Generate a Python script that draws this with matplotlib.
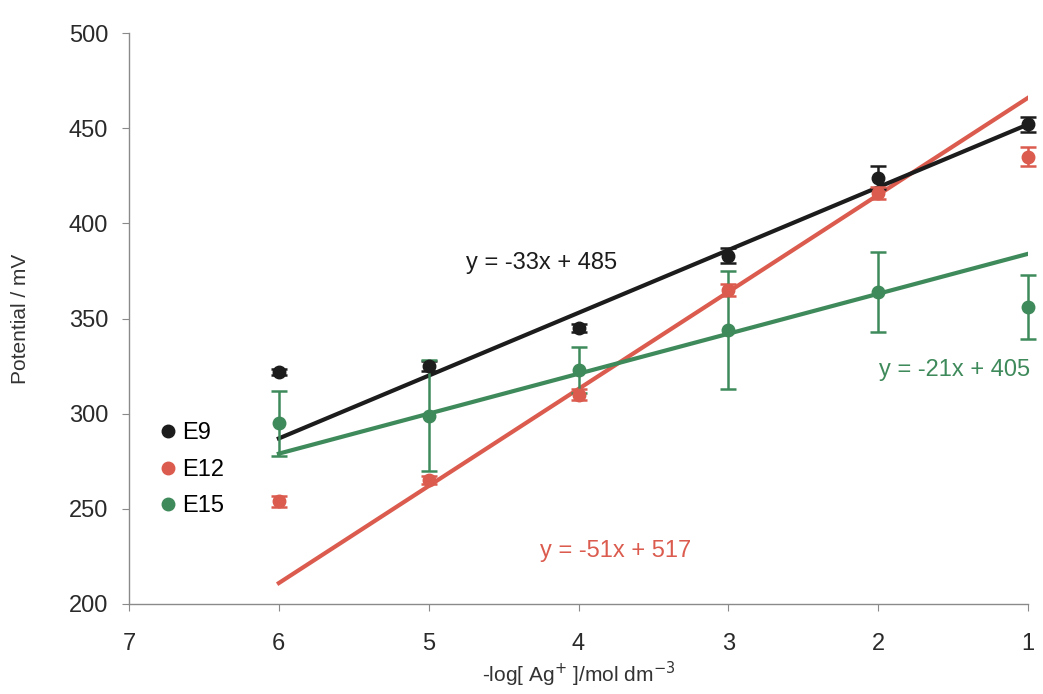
import matplotlib
matplotlib.use("Agg")
from matplotlib import pyplot as plt
from matplotlib.lines import Line2D
import numpy as np

plt.rcParams['font.family'] = ['Liberation Sans', 'DejaVu Sans']

x = [6, 5, 4, 3, 2, 1]

e9 = [322, 325, 345, 383, 424, 452]
e9_err = [1.5, 2.5, 2, 4, 6, 4]
e12 = [254, 265, 310, 365, 416, 435]
e12_err = [3, 2, 3, 3, 3, 5]
e15 = [295, 299, 323, 344, 364, 356]
e15_err = [17, 29, 12, 31, 21, 17]

# trendline coefficients (slope, intercept)
fit9 = (-33, 485)
fit12 = (-51, 517)
fit15 = (-21, 405)

c9 = '#1c1c1c'
c12 = '#db5b4e'
c15 = '#3f8a5b'

fig = plt.figure(figsize=(10.43, 6.94), dpi=100)
ax = fig.add_axes([0.1237, 0.1297, 0.862, 0.8227])

xl = np.array([6, 1])
for (m, b), c in [(fit12, c12), (fit15, c15), (fit9, c9)]:
    ax.plot(xl, m * xl + b, color=c, lw=3, zorder=3)

for y, e, c in [(e9, e9_err, c9), (e12, e12_err, c12), (e15, e15_err, c15)]:
    eb = ax.errorbar(x, y, yerr=e, fmt='o', color=c, ms=9, ecolor=c, elinewidth=1.8,
                     capsize=6, capthick=1.8, zorder=4)
    for art in eb.get_children():
        art.set_clip_on(False)

ax.set_xlim(7, 1)
ax.set_ylim(200, 500)
ax.set_xticks([7, 6, 5, 4, 3, 2, 1])
ax.set_yticks([200, 250, 300, 350, 400, 450, 500])

for s in ['top', 'right']:
    ax.spines[s].set_visible(False)
for s in ['left', 'bottom']:
    ax.spines[s].set_color('#8a8a8a')
    ax.spines[s].set_linewidth(1)
ax.tick_params(direction='out', length=5, color='#8a8a8a', labelsize=17,
               labelcolor='#2a2a2a')
ax.tick_params(axis='x', pad=16)
ax.tick_params(axis='y', pad=10)

ax.set_ylabel('Potential / mV', fontsize=15, color='#333333', labelpad=28)
ax.set_xlabel('-log[ Ag$^{+}$ ]/mol dm$^{-3}$', fontsize=15, color='#333333', labelpad=3)

ax.text(4.25, 379, 'y = -33x + 485', color=c9, fontsize=17, ha='center', va='center')
ax.text(1.49, 323, 'y = -21x + 405', color=c15, fontsize=17, ha='center', va='center')
ax.text(3.75, 228, 'y = -51x + 517', color=c12, fontsize=17, ha='center', va='center')

handles = [Line2D([], [], ls='none', marker='o', ms=9, color=c) for c in (c9, c12, c15)]
ax.legend(handles, ['E9', 'E12', 'E15'], loc='upper left', bbox_to_anchor=(0.017, 0.335),
          frameon=False, fontsize=17, handletextpad=0.0, labelspacing=0.62,
          handlelength=1.2, borderaxespad=0)

plt.savefig('out.png', dpi=100)
